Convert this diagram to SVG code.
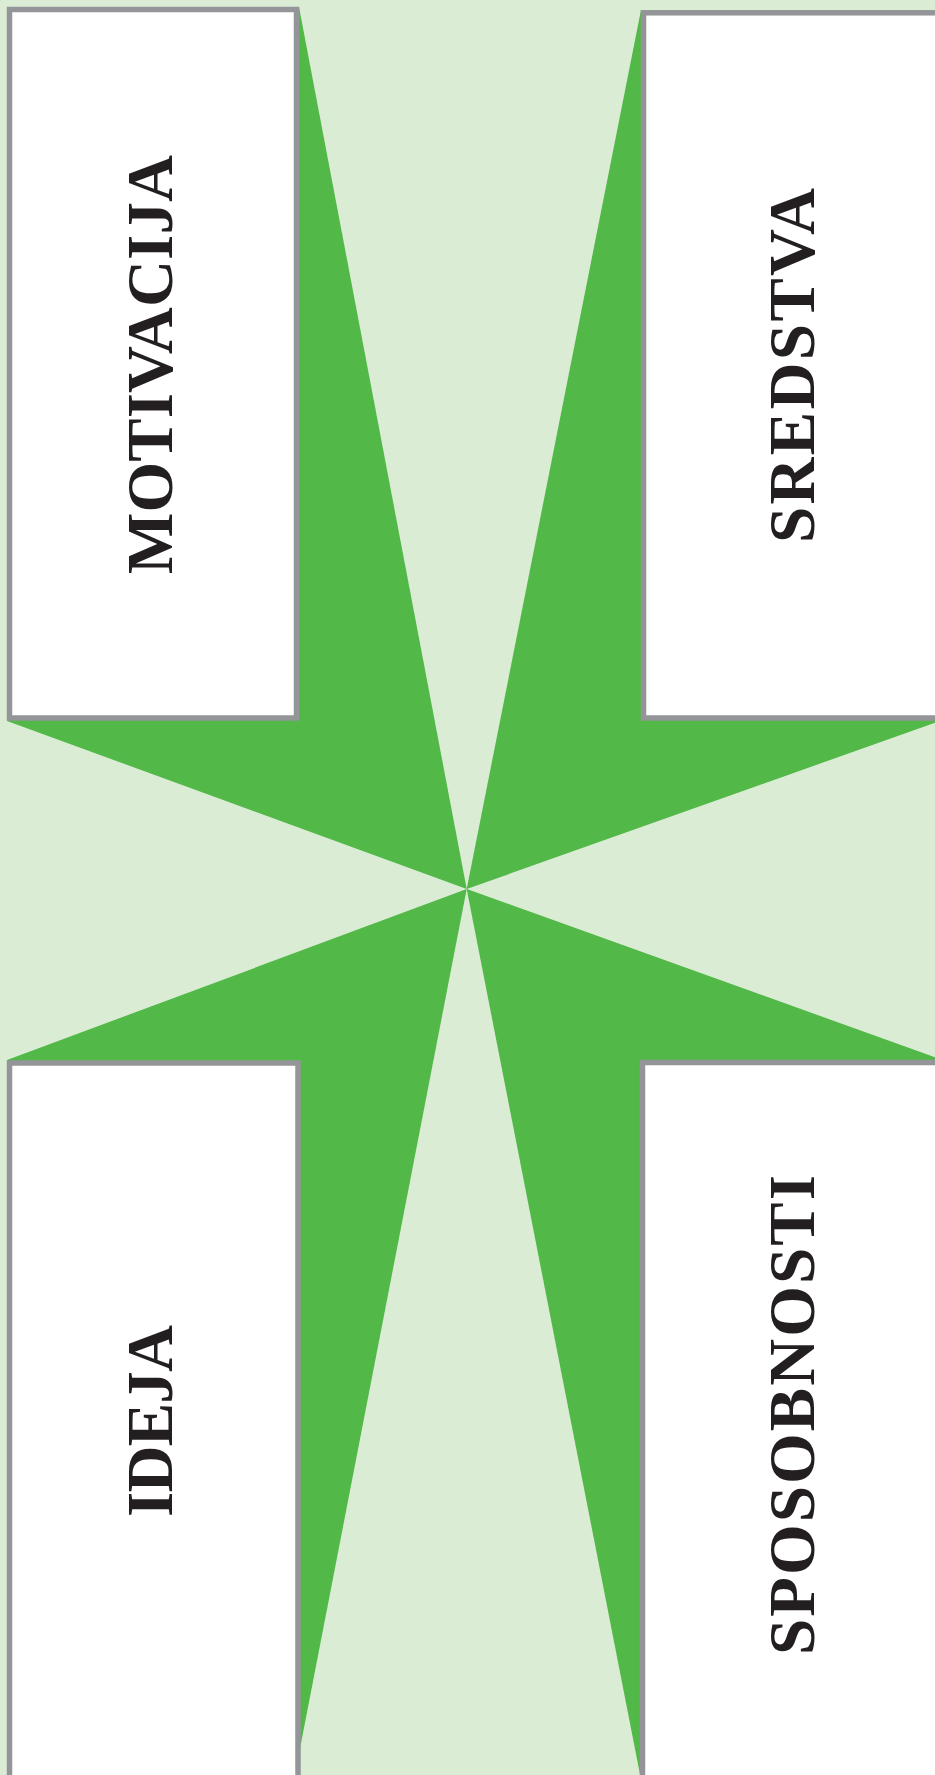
<svg xmlns="http://www.w3.org/2000/svg" width="935" height="1775" viewBox="0 0 935 1775">
<style>
.bg{fill:#dbecd5}
.arm{fill:#52b848}
.box{fill:#ffffff;stroke:#939598;stroke-width:5.5}
.lbl{font-family:"Liberation Serif","Times New Roman",serif;font-weight:bold;font-size:65px;fill:#231f20;text-anchor:middle}
</style>
<rect class="bg" x="0" y="0" width="935" height="1775"/>
<g id="arms">
<polygon class="arm" points="299,7 466.7,889 7,721"/>
<polygon class="arm" points="641,10 466.7,889 940,721"/>
<polygon class="arm" points="7,1060 466.7,889 290,1800"/>
<polygon class="arm" points="940,1059 466.7,889 645,1800"/>
</g>
<g id="motivacija">
<rect class="box" x="9.5" y="9.5" width="287" height="708.5"/>
<text class="lbl" transform="translate(171.5,364.5) rotate(-90)" textLength="419">MOTIVACIJA</text>
</g>
<g id="sredstva">
<rect class="box" x="643.5" y="12.8" width="300" height="705.2"/>
<text class="lbl" transform="translate(814,365.5) rotate(-90)" textLength="355">SREDSTVA</text>
</g>
<g id="ideja">
<rect class="box" x="9.5" y="1063" width="288.5" height="730"/>
<text class="lbl" transform="translate(171.5,1421) rotate(-90)" textLength="192">IDEJA</text>
</g>
<g id="sposobnosti">
<rect class="box" x="642.5" y="1062.5" width="300" height="730"/>
<text class="lbl" transform="translate(814,1415) rotate(-90)" textLength="480">SPOSOBNOSTI</text>
</g>
<g id="connectors"></g>
</svg>
